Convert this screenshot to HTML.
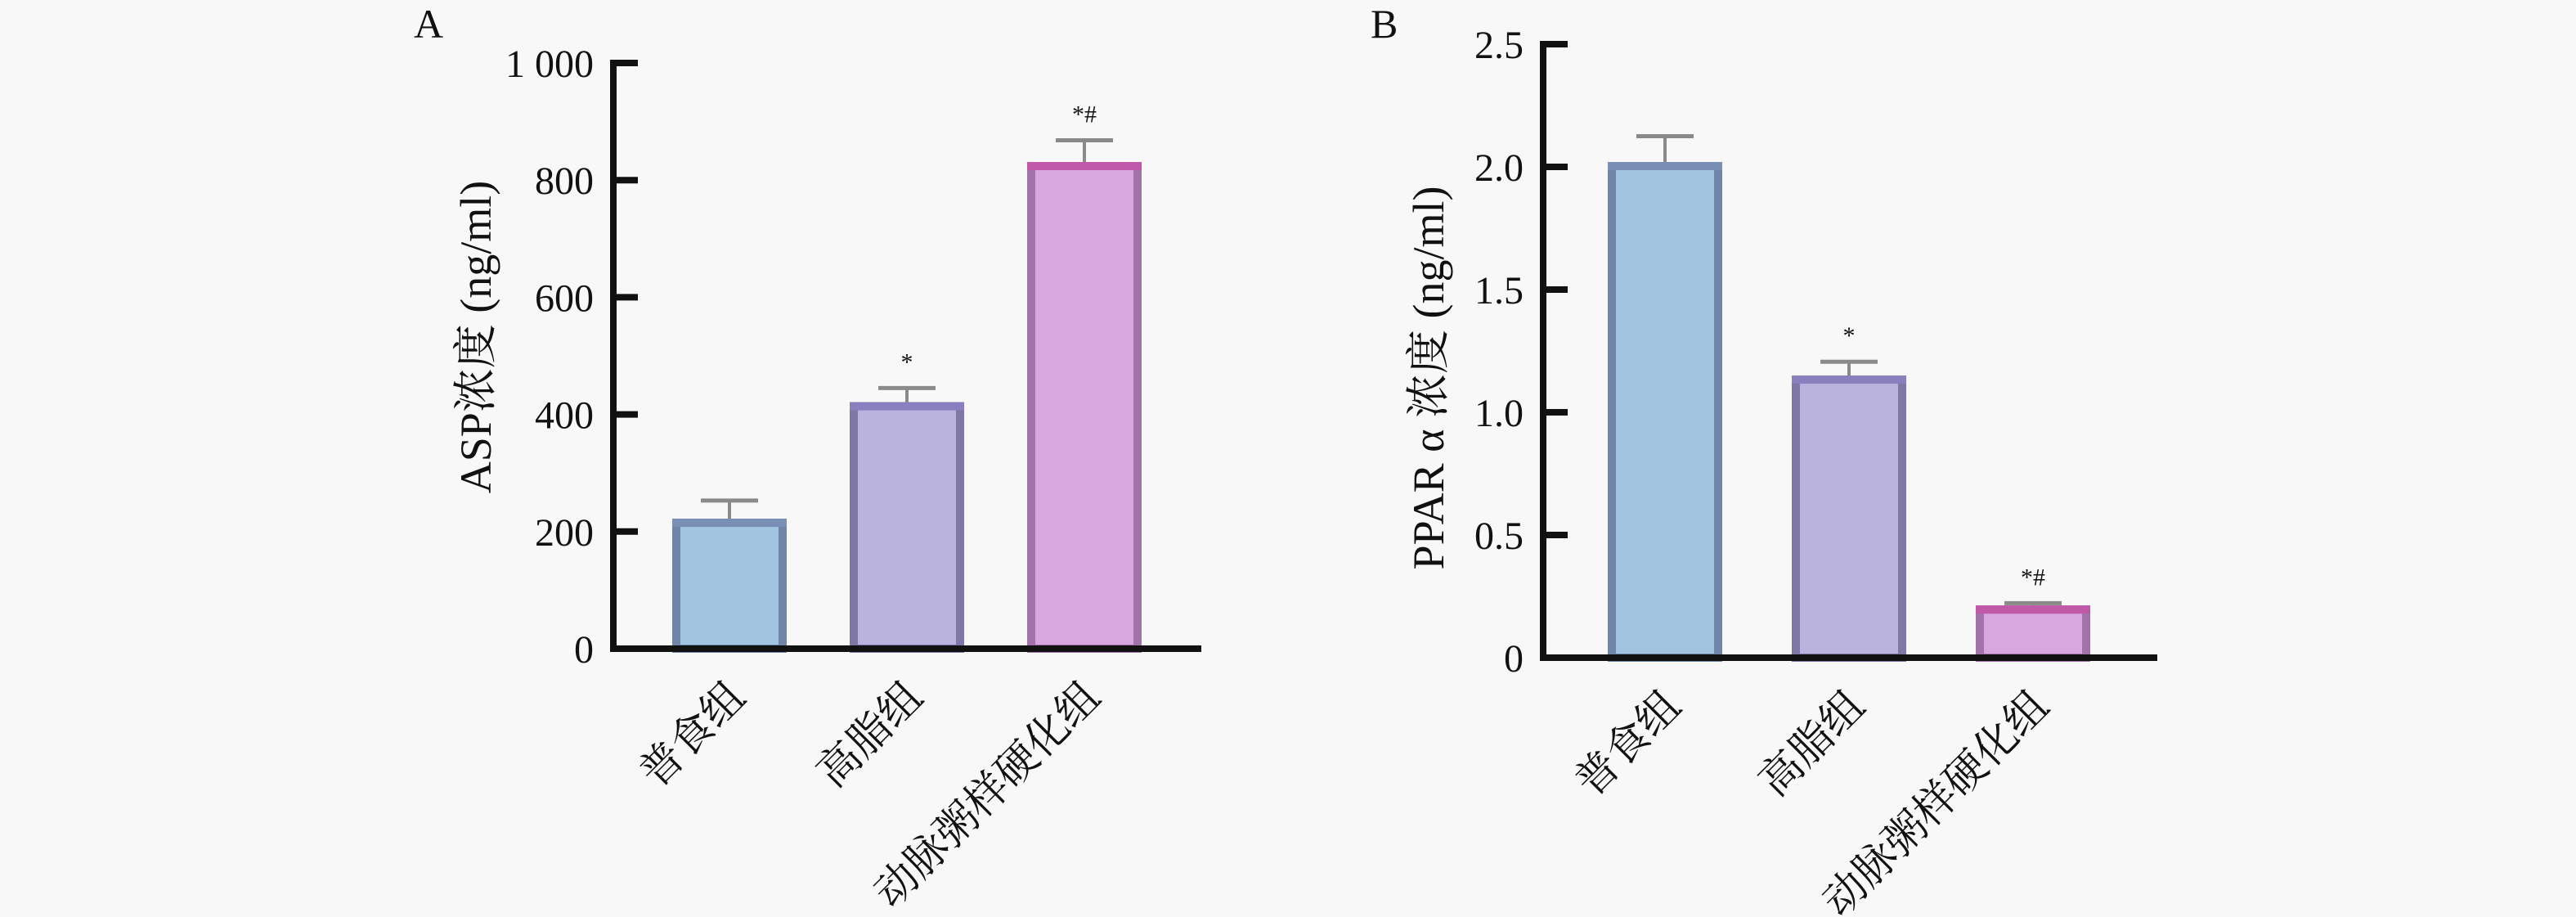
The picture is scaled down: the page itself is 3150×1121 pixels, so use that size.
<!DOCTYPE html>
<html><head><meta charset="utf-8"><style>
html,body{margin:0;padding:0;background:#f8f8f8;}
svg{display:block;}
text{font-family:"Liberation Serif","Noto Serif CJK SC",serif;fill:#111;}
</style></head><body>
<svg id="fig" width="3150" height="1121" viewBox="0 0 3150 1121" xmlns="http://www.w3.org/2000/svg">
<rect width="3150" height="1121" fill="#f8f8f8"/>
</svg>
<script>
const categories = ["普食组", "高脂组", "动脉粥样硬化组"];
const aspValues = [222, 421, 831];
const aspErrors = [253, 445, 868];
const aspTicks = [0, 200, 400, 600, 800, 1000];
const aspTickLabels = ["0", "200", "400", "600", "800", "1 000"];
const aspMarks = ["", "*", "*#"];
const pparValues = [2.02, 1.15, 0.213];
const pparErrors = [2.125, 1.206, 0.222];
const pparTicks = [0, 0.5, 1.0, 1.5, 2.0, 2.5];
const pparTickLabels = ["0", "0.5", "1.0", "1.5", "2.0", "2.5"];
const pparMarks = ["", "*", "*#"];

const NS = "http://www.w3.org/2000/svg";
const svg = document.getElementById('fig');
function mk(tag, attrs, parent, txt){
  const e = document.createElementNS(NS, tag);
  for (const k in attrs) e.setAttribute(k, attrs[k]);
  if (txt !== undefined) e.textContent = txt;
  (parent || svg).appendChild(e);
  return e;
}
const fills = ["#a2c4e1", "#bab3de", "#d9a7df"];
const borders = ["#6f86a8", "#7f78a6", "#a272aa"];
const tops = ["#7a8fb5", "#8a80c0", "#c05aa8"];

function panel(cfg, values, errors, ticks, tickLabels, marks){
  const g = mk('g', {});
  
  
  const yMax = ticks[ticks.length - 1];
  const y = v => cfg.y0 - (v / yMax) * (cfg.y0 - cfg.yTop);
  const x = i => cfg.firstCenter + i * cfg.step;
  const L = mk('text', {x: cfg.letterX, y: 46, 'font-size': 50}, g, cfg.letter);
  
  
  values.forEach((v, i) => {
    const cx = x(i), w = 140, top = y(v);
    const bg = mk('g', {}, g);
    
    
    mk('rect', {x: cx - w/2 + 5, y: top + 5, width: w - 10, height: cfg.y0 - top - 5, fill: fills[i], stroke: borders[i], 'stroke-width': 10}, bg);
    mk('rect', {x: cx - w/2, y: top, width: w, height: 10, fill: tops[i]}, bg);
    const eg = mk('g', {}, g);
    
    
    mk('line', {x1: cx, x2: cx, y1: y(errors[i]), y2: top, stroke: '#8a8a8a', 'stroke-width': 4}, eg);
    mk('line', {x1: cx - 35, x2: cx + 35, y1: y(errors[i]), y2: y(errors[i]), stroke: '#8a8a8a', 'stroke-width': 5}, eg);
    if (marks[i]) {
      const m = mk('text', {x: cx, y: y(errors[i]) - 22, 'font-size': 30, 'text-anchor': 'middle'}, g, marks[i]);
      
      
    }
    const t = mk('text', {x: 0, y: 0, 'font-size': 52, 'text-anchor': 'end',
      transform: `translate(${cx + 22},${cfg.y0 + 62}) rotate(-45)`}, g, categories[i]);
    
    
  });
  const ax = mk('line', {x1: cfg.axisX, x2: cfg.axisX, y1: cfg.yTop - 4, y2: cfg.y0 + 4, stroke: '#111', 'stroke-width': 8}, g);
  
  
  const xa = mk('line', {x1: cfg.axisX - 4, x2: cfg.xEnd, y1: cfg.y0, y2: cfg.y0, stroke: '#111', 'stroke-width': 8}, g);
  
  
  ticks.forEach((t, i) => {
    mk('line', {x1: cfg.axisX, x2: cfg.axisX + 30, y1: y(t), y2: y(t), stroke: '#111', 'stroke-width': 8}, g);
    const tl = mk('text', {x: cfg.axisX - 24, y: y(t) + 17, 'font-size': 48, 'text-anchor': 'end'}, g, tickLabels[i]);
    
    
  });
  const yt = mk('text', {x: 0, y: 0, 'font-size': 54, 'text-anchor': 'middle',
    transform: `translate(${cfg.titleX},${cfg.titleY}) rotate(-90)`}, g, cfg.title);
  
  
}

panel({name: 'panel-a-asp', letter: 'A', letterX: 506, axisX: 750, y0: 793, yTop: 77, xEnd: 1469,
  firstCenter: 892, step: 217, titleX: 600, titleY: 412, title: 'ASP浓度 (ng/ml)'},
  aspValues, aspErrors, aspTicks, aspTickLabels, aspMarks);
panel({name: 'panel-b-ppar', letter: 'B', letterX: 1676, axisX: 1887, y0: 804, yTop: 54, xEnd: 2638,
  firstCenter: 2036, step: 225, titleX: 1765, titleY: 462, title: 'PPAR α 浓度 (ng/ml)'},
  pparValues, pparErrors, pparTicks, pparTickLabels, pparMarks);
</script>
</body></html>
